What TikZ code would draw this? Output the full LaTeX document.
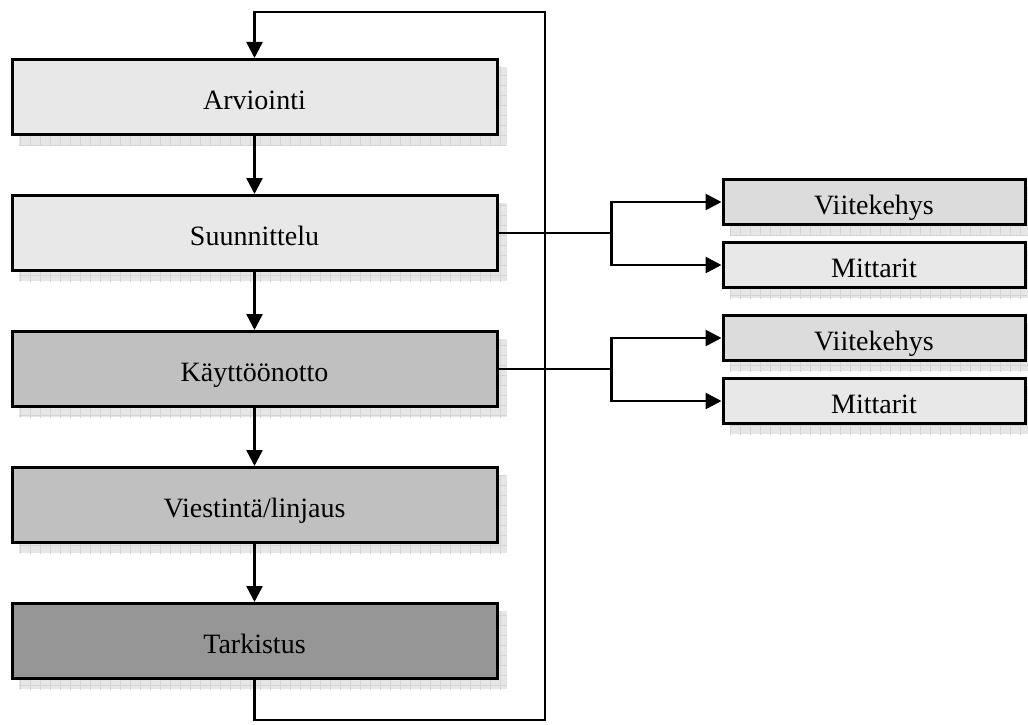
\documentclass[tikz,border=0pt]{standalone}
\usepackage{fontspec}
\setmainfont{Liberation Serif}
\usetikzlibrary{arrows.meta,patterns.meta,calc}
\pgfdeclarelayer{background}
\pgfsetlayers{background,main}

\definecolor{paleGray}{HTML}{E8E8E8}
\definecolor{midGray}{HTML}{DCDCDC}
\definecolor{silverGray}{HTML}{C0C0C0}
\definecolor{darkGray}{HTML}{969696}
\definecolor{shadowBg}{HTML}{E6E6E6}
\definecolor{shadowLine}{HTML}{D4D4D4}

\tikzset{
  box/.style={draw=black, line width=3pt, rectangle, inner sep=0pt,
    text height=24pt, text depth=0pt,
    font=\fontsize{28pt}{33pt}\selectfont},
  mainbox/.style={box, minimum width=485pt, minimum height=75pt},
  sidebox/.style={box, minimum width=302pt, minimum height=45pt},
  conn/.style={line width=2.6pt, draw=black},
  arr/.style={conn, -{Triangle[length=16pt,width=16pt]}},
  boxshadow/.style={fill=shadowBg},
  boxshadowgrid/.style={pattern={Hatch[angle=0,distance=10pt,line width=0.7pt]},
    pattern color=shadowLine},
}

\begin{document}
\begin{tikzpicture}[x=1pt,y=-1pt]
\useasboundingbox (0,0) rectangle (1028,725);

% process steps
\node[mainbox, fill=paleGray]   (arv) at (254.5,97)  {Arviointi};
\node[mainbox, fill=paleGray]   (suu) at (254.5,233) {Suunnittelu};
\node[mainbox, fill=silverGray] (kay) at (254.5,369) {Käyttöönotto};
\node[mainbox, fill=silverGray] (vie) at (254.5,505) {Viestintä/linjaus};
\node[mainbox, fill=darkGray]   (tar) at (254.5,641) {Tarkistus};

% outputs of planning and deployment
\node[sidebox, fill=midGray]  (v1) at (874,202) {Viitekehys};
\node[sidebox, fill=paleGray] (m1) at (874,265) {Mittarit};
\node[sidebox, fill=midGray]  (v2) at (874,338) {Viitekehys};
\node[sidebox, fill=paleGray] (m2) at (874,401) {Mittarit};

% drop shadows
\begin{pgfonlayer}{background}
  \foreach \n in {arv,suu,kay,vie,tar,v1,m1,v2,m2}{
    \fill[boxshadow] ([shift={(8pt,-9pt)}]\n.south west) rectangle ([shift={(8pt,-9pt)}]\n.north east);
    \fill[boxshadowgrid] ([shift={(8pt,-9pt)}]\n.south west) rectangle ([shift={(8pt,-9pt)}]\n.north east);
  }
\end{pgfonlayer}

% main sequence
\draw[arr] (arv) -- (suu);
\draw[arr] (suu) -- (kay);
\draw[arr] (kay) -- (vie);
\draw[arr] (vie) -- (tar);

% feedback loop
\coordinate (loopB) at (545,720);
\coordinate (loopT) at (545,12);
\draw[arr] (tar.south) |- (loopB) -- (loopT) -| (arv.north);

% branches
\coordinate (b1) at ($(suu.east)+(113,0)$);
\coordinate (b2) at ($(kay.east)+(113,0)$);
\draw[conn] (suu.east) -- (b1);
\draw[arr] (b1) |- (v1.west);
\draw[arr] (b1) |- (m1.west);
\draw[conn] (kay.east) -- (b2);
\draw[arr] (b2) |- (v2.west);
\draw[arr] (b2) |- (m2.west);
\end{tikzpicture}
\end{document}
